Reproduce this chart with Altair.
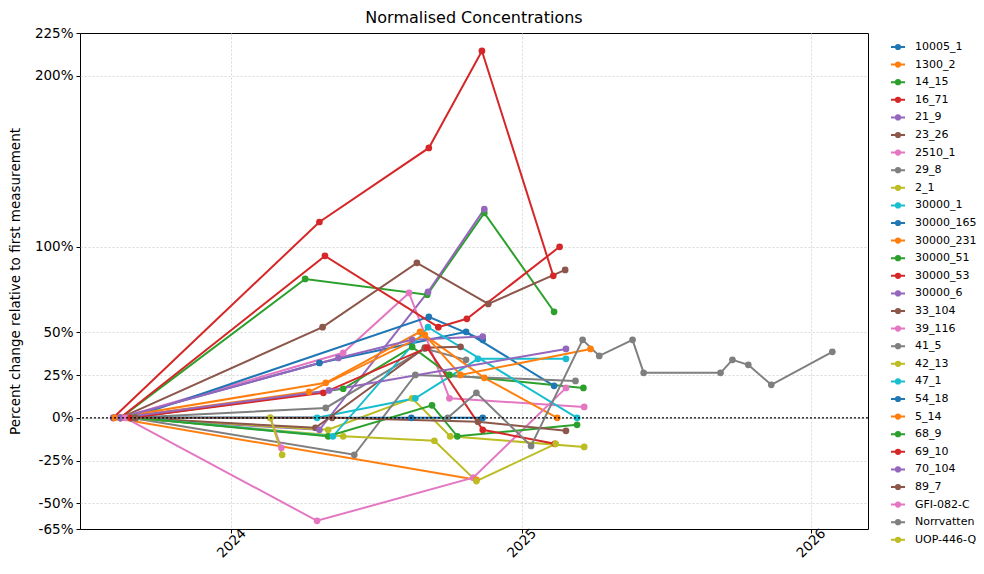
import altair as alt
import pandas as pd

series_names = ["10005_1", "1300_2", "14_15", "16_71", "21_9", "23_26", "2510_1", "29_8",
                "2_1", "30000_1", "30000_165", "30000_231", "30000_51", "30000_53", "30000_6",
                "33_104", "39_116", "41_5", "42_13", "47_1", "54_18", "5_14", "68_9", "69_10",
                "70_104", "89_7", "GFI-082-C", "Norrvatten", "UOP-446-Q"]
palette = ["#1f77b4", "#ff7f0e", "#2ca02c", "#d62728", "#9467bd",
           "#8c564b", "#e377c2", "#7f7f7f", "#bcbd22", "#17becf"]
colors = [palette[i % 10] for i in range(len(series_names))]

# ---- series (dates, percent change) ----
d_10005_1 = ["2023-08-14", "2024-04-21", "2024-10-23", "2025-02-11"]
v_10005_1 = [0, 32.1, 50.3, 18.7]
d_1300_2 = ["2023-08-05", "2024-11-05"]
v_1300_2 = [0, -36.2]
d_14_15 = ["2023-08-14", "2024-04-03", "2024-09-04", "2024-11-15", "2025-02-11"]
v_14_15 = [0, 81.2, 72.0, 119.8, 62.0]
d_16_71 = ["2023-08-05", "2024-04-21", "2024-09-06", "2024-11-12", "2025-02-10"]
v_16_71 = [0, 114.5, 157.8, 214.5, 83.0]
d_21_9 = ["2023-08-05", "2024-04-21", "2024-09-05", "2024-11-15"]
v_21_9 = [0, -7.0, 73.6, 122.0]
d_23_26 = ["2023-08-14", "2024-04-25", "2024-08-22", "2024-11-20", "2025-02-25"]
v_23_26 = [0, 53.0, 90.6, 66.6, 86.5]
d_2510_1 = ["2023-08-14", "2024-05-21", "2024-08-12", "2024-10-02", "2025-03-21"]
v_2510_1 = [0, 38.0, 73.0, 11.4, 6.4]
d_29_8 = ["2023-08-27", "2024-04-29", "2024-09-01", "2024-10-23"]
v_29_8 = [0, 5.8, 40.5, 33.9]
d_2_1 = ["2023-09-02", "2024-05-02", "2024-08-16", "2024-10-03", "2025-03-21"]
v_2_1 = [0, -7.0, 11.4, -10.8, -17.0]
d_30000_1 = ["2023-08-27", "2024-04-18", "2024-08-20", "2024-11-07", "2025-02-26"]
v_30000_1 = [0, 0, 11.4, 34.5, 34.5]
d_30000_165 = ["2023-08-27", "2024-09-06", "2024-11-13"]
v_30000_165 = [0, 59.0, 45.6]
d_30000_231 = ["2023-08-07", "2024-04-29", "2024-08-26", "2024-11-15", "2025-02-15"]
v_30000_231 = [0, 20.5, 50.3, 23.4, 0]
d_30000_51 = ["2023-08-27", "2024-05-21", "2024-08-16", "2024-10-02", "2025-03-20"]
v_30000_51 = [0, 17.0, 41.5, 25.1, 17.5]
d_30000_53 = ["2023-08-14", "2024-04-28", "2024-09-18", "2024-10-24", "2025-02-18"]
v_30000_53 = [0, 94.7, 53.0, 57.9, 100.0]
d_30000_6 = ["2023-08-14", "2024-05-15", "2024-08-16", "2024-11-13"]
v_30000_6 = [0, 35.0, 45.6, 47.5]
d_33_104 = ["2023-08-27", "2024-04-16", "2024-09-01", "2024-10-16"]
v_33_104 = [0, -5.8, 41.0, 41.5]
d_39_116 = ["2023-08-20", "2024-04-18", "2024-11-01", "2025-02-26"]
v_39_116 = [0, -60.2, -35.0, 17.5]
d_41_5 = ["2023-08-27", "2024-06-04", "2024-08-20", "2025-03-10"]
v_41_5 = [0, -21.6, 25.1, 21.6]
d_42_13 = ["2023-08-27", "2024-05-21", "2024-09-13", "2024-11-05", "2025-02-13"]
v_42_13 = [0, -10.8, -13.4, -37.0, -15.2]
d_47_1 = ["2023-09-02", "2024-05-08", "2024-09-05", "2025-03-12"]
v_47_1 = [0, -10.8, 53.0, 0]
d_54_18 = ["2023-09-02", "2024-08-15", "2024-11-13"]
v_54_18 = [0, 0, 0]
d_5_14 = ["2023-08-14", "2024-04-08", "2024-09-01", "2024-10-16", "2025-03-29"]
v_5_14 = [0, 15.2, 48.5, 25.1, 40.3]
d_68_9 = ["2023-09-02", "2024-05-02", "2024-09-10", "2024-10-12", "2025-03-12"]
v_68_9 = [0, -10.8, 7.3, -10.8, -4.1]
d_69_10 = ["2023-08-27", "2024-04-26", "2024-09-04", "2024-11-13", "2025-02-12"]
v_69_10 = [0, 14.6, 41.0, -7.0, -15.2]
d_70_104 = ["2023-08-14", "2024-05-03", "2025-02-26"]
v_70_104 = [0, 16.0, 40.3]
d_89_7 = ["2023-09-02", "2024-05-07", "2024-11-07", "2025-02-26"]
v_89_7 = [0, 0, -2.3, -7.6]
d_GFI = ["2024-02-19", "2024-03-04"]
v_GFI = [0, -17.5]
d_Norr = ["2024-09-30", "2024-11-05", "2025-01-13", "2025-03-19", "2025-04-09", "2025-05-21",
          "2025-06-04", "2025-09-09", "2025-09-24", "2025-10-14", "2025-11-12", "2026-01-28"]
v_Norr = [0, 14.6, -16.4, 45.6, 36.2, 45.6, 26.3, 26.3, 33.9, 31.0, 19.3, 38.6]
d_UOP = ["2024-02-19", "2024-03-05"]
v_UOP = [0, -21.6]

series_data = {
    "10005_1": (d_10005_1, v_10005_1), "1300_2": (d_1300_2, v_1300_2),
    "14_15": (d_14_15, v_14_15), "16_71": (d_16_71, v_16_71),
    "21_9": (d_21_9, v_21_9), "23_26": (d_23_26, v_23_26),
    "2510_1": (d_2510_1, v_2510_1), "29_8": (d_29_8, v_29_8),
    "2_1": (d_2_1, v_2_1), "30000_1": (d_30000_1, v_30000_1),
    "30000_165": (d_30000_165, v_30000_165), "30000_231": (d_30000_231, v_30000_231),
    "30000_51": (d_30000_51, v_30000_51), "30000_53": (d_30000_53, v_30000_53),
    "30000_6": (d_30000_6, v_30000_6), "33_104": (d_33_104, v_33_104),
    "39_116": (d_39_116, v_39_116), "41_5": (d_41_5, v_41_5),
    "42_13": (d_42_13, v_42_13), "47_1": (d_47_1, v_47_1),
    "54_18": (d_54_18, v_54_18), "5_14": (d_5_14, v_5_14),
    "68_9": (d_68_9, v_68_9), "69_10": (d_69_10, v_69_10),
    "70_104": (d_70_104, v_70_104), "89_7": (d_89_7, v_89_7),
    "GFI-082-C": (d_GFI, v_GFI), "Norrvatten": (d_Norr, v_Norr),
    "UOP-446-Q": (d_UOP, v_UOP),
}

y_ticks = [-65, -50, -25, 0, 25, 50, 100, 200, 225]

rows = []
for i, name in enumerate(series_names):
    ds, vs = series_data[name]
    for d, v in zip(ds, vs):
        rows.append({"site": name, "date": d, "value": v, "order": i})
df = pd.DataFrame(rows)

FONT = "DejaVu Sans"

x_enc = alt.X("date:T",
              scale=alt.Scale(domain=[alt.DateTime(year=2023, month=6, date=24),
                                      alt.DateTime(year=2026, month=3, date=14)]),
              axis=alt.Axis(values=[alt.DateTime(year=2024, month=1, date=1),
                                    alt.DateTime(year=2025, month=1, date=1),
                                    alt.DateTime(year=2026, month=1, date=1)],
                            format="%Y", labelAngle=-45, labelAlign="center",
                            labelBaseline="middle", labelPadding=10, title=None,
                            grid=True, gridDash=[2, 2], gridColor="#d9d9d9",
                            tickSize=4, domain=False))
y_enc = alt.Y("value:Q",
              scale=alt.Scale(domain=[-65, 225], nice=False, zero=False),
              axis=alt.Axis(values=y_ticks, labelExpr="datum.value + '%'",
                            title="Percent change relative to first measurement",
                            titlePadding=12, titleFontWeight="normal", titleFontSize=13.5,
                            grid=True, gridDash=[2, 2], gridColor="#d9d9d9",
                            gridOpacity={"condition": {"test": "datum.value == 225 || datum.value == -65",
                                                       "value": 0}, "value": 1},
                            tickSize=4, labelPadding=3, domain=False))

color_enc = alt.Color("site:N",
                      scale=alt.Scale(domain=series_names, range=colors),
                      sort=series_names,
                      legend=alt.Legend(title=None, orient="none", legendX=810, legendY=6,
                                        symbolType="M-1,0H1M0.3,0A0.3,0.3,0,1,1,-0.3,0A0.3,0.3,0,1,1,0.3,0Z",
                                        symbolSize=196, symbolStrokeWidth=2,
                                        labelFontSize=11, labelFont=FONT, labelOffset=9,
                                        rowPadding=2.6, labelColor="black", labelLimit=200))

lines = alt.Chart(df).mark_line(strokeWidth=2,
                                point=alt.OverlayMarkDef(size=45, filled=True, opacity=1)).encode(
    x=x_enc, y=y_enc, color=color_enc, detail="site:N", order=alt.Order("date:T"))

zero = alt.Chart(pd.DataFrame({"z": [0]})).mark_rule(color="black", strokeDash=[2, 2],
                                                     strokeWidth=1.3).encode(y="z:Q")

chart = alt.layer(lines, zero).properties(
    width=788, height=496,
    padding={"left": 72, "top": 25, "right": 108, "bottom": 32},
    autosize=alt.AutoSizeParams(type="none"),
    title=alt.TitleParams("Normalised Concentrations", fontSize=16, fontWeight="normal",
                          font=FONT, color="black", offset=0),
).configure_view(stroke="black", strokeWidth=1).configure_axis(
    labelFont=FONT, titleFont=FONT, labelFontSize=13.5, labelColor="black",
    titleColor="black", tickColor="black"
)

chart.save("out.html", embed_options={"renderer": "svg", "actions": False})
